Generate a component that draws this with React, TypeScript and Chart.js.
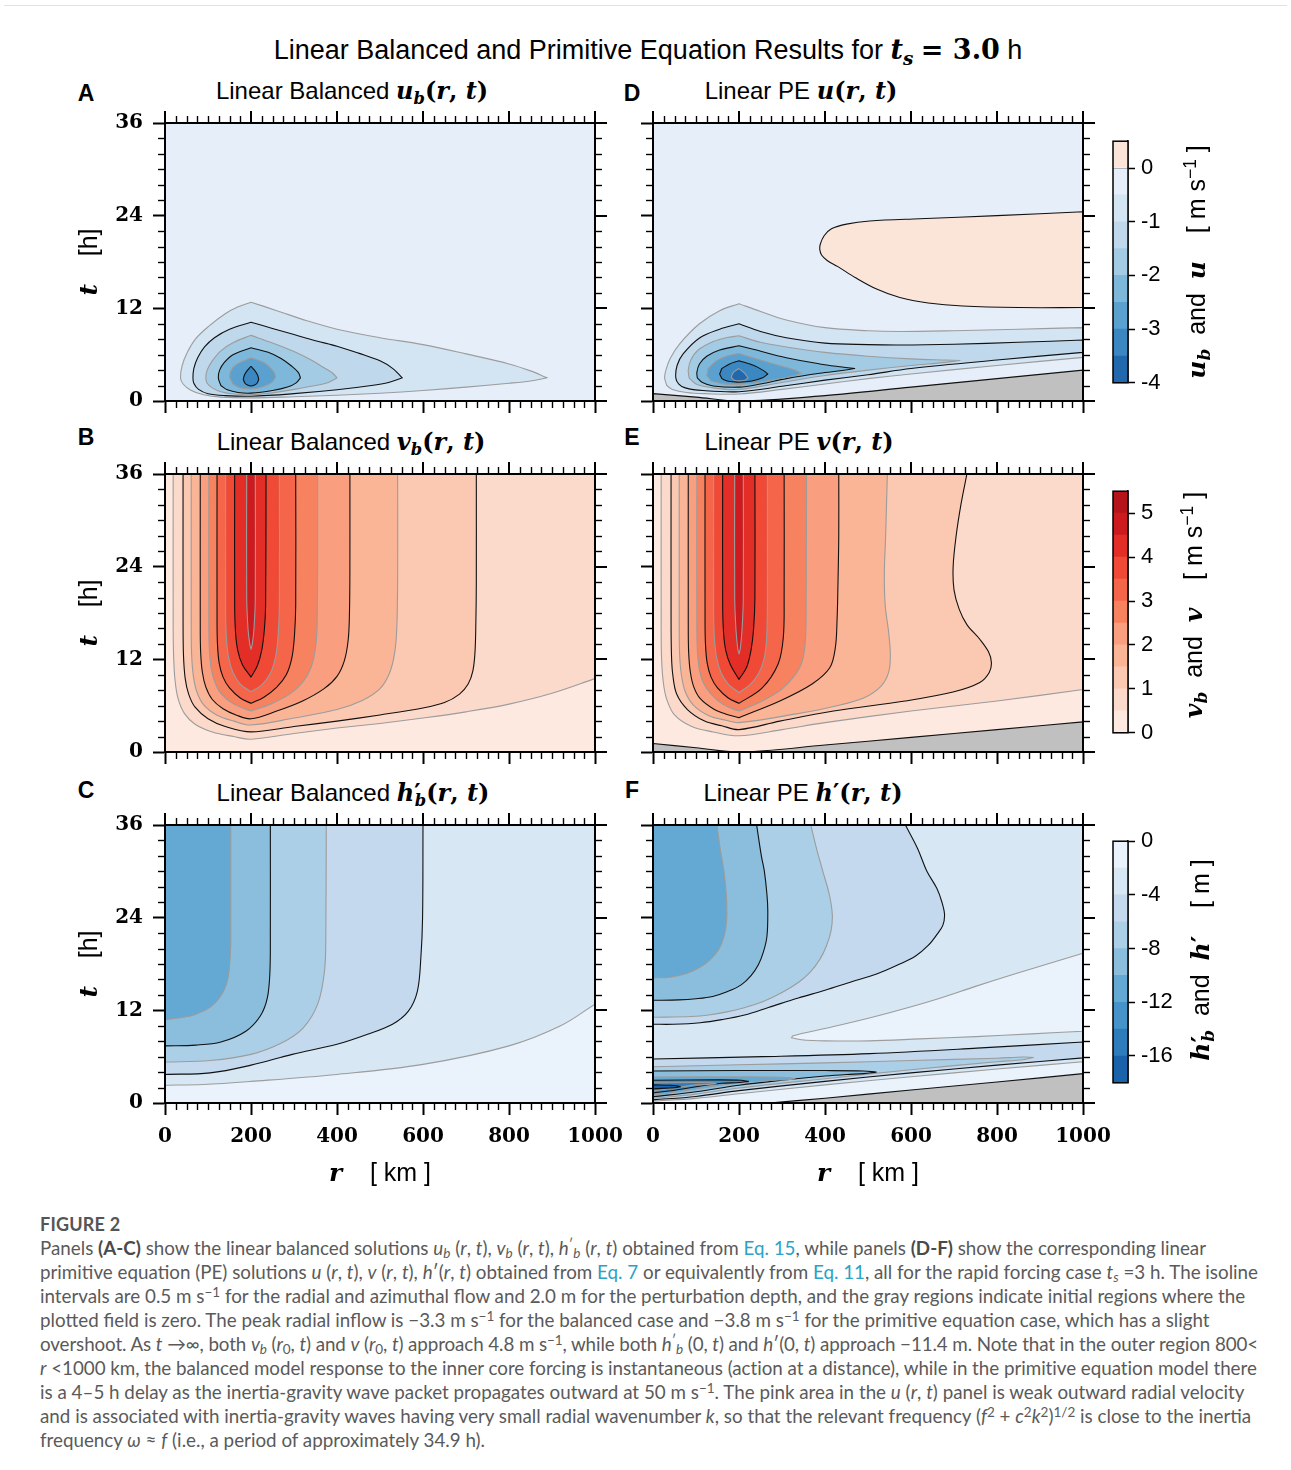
import React, { useEffect, useRef } from "react";
import { Chart, registerables } from "chart.js";

Chart.register(...registerables);

type Pt = [number, number];

/* ---------------- axes ---------------- */
const R_RANGE: Pt = [0, 1000];
const T_RANGE: Pt = [0, 36];
const R_TICKS = [0, 200, 400, 600, 800, 1000];
const T_TICKS = [0, 12, 24, 36];
const R_MINOR = 25;
const T_MINOR = 2;

/* ---------------- colour bars ---------------- */
const U_EDGES = [-4, -3.5, -3, -2.5, -2, -1.5, -1, -0.5, 0, 0.5];
const U_COLORS = ["#2268ad", "#3a87c2", "#5aa1d0", "#7db8da", "#a3cce4", "#bfd8ec", "#d3e4f3", "#e6eff9", "#fbe5d9"];
const U_LABELS = [-4, -3, -2, -1, 0];
const V_EDGES = [0, 0.5, 1, 1.5, 2, 2.5, 3, 3.5, 4, 4.5, 5, 5.5];
const V_COLORS = ["#fde9e0", "#fcdacb", "#fbc8b1", "#fab496", "#f99e7f", "#f7825f", "#f4654a", "#f04a36", "#e22e27", "#cc1a1f", "#b5141b"];
const V_LABELS = [0, 1, 2, 3, 4, 5];
const H_EDGES = [-18, -16, -14, -12, -10, -8, -6, -4, -2, 0];
const H_COLORS = ["#1a63aa", "#2e7cbc", "#4593c8", "#64a8d4", "#8bbedc", "#aacfe6", "#c4d9ee", "#d7e7f4", "#eaf2fb"];
const H_LABELS = [-16, -12, -8, -4, 0];
const ZERO_GRAY = "#c0c0c0";

/* ---------------- full plot rectangle ---------------- */
const FULL: Pt[] = [[0, 0], [0, 36], [1000, 36], [1000, 0]];

/* ---------------- panel A : balanced u_b ---------------- */
const A_M05: Pt[] = [[200, 12.8], [260, 11.7], [330, 10.4], [400, 9.3], [500, 8.2], [600, 7.3], [700, 6.1], [800, 4.8], [850, 3.9], [889, 3.0], [850, 2.6], [800, 2.3], [700, 1.8], [600, 1.35], [500, 1.0], [400, 0.75], [300, 0.55], [200, 0.4], [130, 0.5], [90, 0.8], [60, 1.4], [42, 2.2], [36, 3.0], [40, 4.6], [52, 6.3], [72, 8.1], [100, 9.6], [140, 11.3], [170, 12.2]];
const A_M10: Pt[] = [[200, 10.2], [250, 9.4], [300, 8.6], [350, 7.8], [400, 7.1], [450, 6.2], [500, 5.2], [530, 4.2], [552, 3.0], [520, 2.4], [480, 2.0], [400, 1.45], [300, 0.95], [200, 0.62], [140, 0.7], [100, 0.95], [78, 1.5], [67, 2.3], [65, 3.0], [67, 4.2], [76, 5.6], [92, 7.0], [115, 8.2], [150, 9.3]];
const A_M15: Pt[] = [[200, 8.5], [250, 7.5], [300, 6.4], [340, 5.3], [370, 4.3], [390, 3.6], [400, 3.0], [380, 2.4], [340, 1.9], [300, 1.5], [250, 1.05], [200, 0.82], [160, 0.9], [130, 1.2], [110, 1.7], [98, 2.3], [95, 3.0], [98, 4.0], [110, 5.2], [130, 6.5], [160, 7.6]];
const A_M20: Pt[] = [[200, 6.9], [240, 6.3], [270, 5.5], [295, 4.5], [310, 3.7], [315, 3.0], [305, 2.35], [285, 1.8], [250, 1.35], [200, 1.02], [170, 1.1], [145, 1.45], [130, 2.0], [124, 3.0], [127, 4.0], [138, 5.0], [158, 6.0]];
const A_M25: Pt[] = [[200, 5.6], [230, 5.0], [245, 4.3], [254, 3.7], [257, 3.1], [250, 2.5], [235, 2.0], [215, 1.65], [200, 1.55], [175, 1.7], [158, 2.2], [150, 3.1], [153, 3.9], [165, 4.7]];
const A_M30: Pt[] = [[200, 4.5], [208, 4.0], [215, 3.4], [218, 2.8], [214, 2.3], [207, 2.03], [200, 1.95], [193, 2.03], [186, 2.3], [182, 2.8], [185, 3.4], [192, 4.0]];

/* ---------------- panel D : PE u ---------------- */
const D_POS: Pt[] = [[1000, 24.5], [800, 24.0], [620, 23.6], [504, 23.3], [450, 22.9], [415, 22.3], [398, 21.4], [389, 20.3], [388, 19.6], [392, 18.9], [405, 18.2], [430, 17.4], [470, 16.0], [520, 14.5], [574, 13.4], [640, 12.7], [720, 12.3], [850, 12.1], [1000, 12.1]];
const D_M05: Pt[] = [[1000, 9.5], [850, 9.3], [700, 9.1], [574, 9.0], [500, 9.1], [400, 9.5], [310, 10.5], [250, 11.6], [200, 12.6], [155, 11.7], [108, 10.0], [62, 7.4], [40, 5.5], [30, 4.0], [27, 3.0], [32, 2.0], [45, 1.5], [78, 1.1], [120, 0.95], [200, 0.9], [300, 1.5], [400, 2.2], [500, 2.9], [600, 3.5], [800, 4.6], [1000, 5.65]];
const D_M10: Pt[] = [[1000, 7.9], [850, 7.6], [700, 7.35], [574, 7.25], [500, 7.3], [400, 7.5], [310, 8.2], [250, 9.0], [200, 10.0], [155, 9.3], [109, 8.2], [70, 6.1], [56, 4.6], [53, 3.0], [60, 2.2], [75, 1.7], [116, 1.35], [200, 1.2], [300, 1.9], [400, 2.7], [500, 3.4], [600, 4.2], [800, 5.3], [1000, 6.3]];
const D_M15: Pt[] = [[200, 8.45], [250, 7.6], [310, 7.0], [400, 6.3], [500, 5.8], [600, 5.45], [680, 5.3], [714, 5.25], [680, 5.0], [600, 4.6], [500, 4.0], [400, 3.3], [300, 2.4], [200, 1.5], [140, 1.7], [100, 2.2], [84, 3.0], [82, 4.0], [88, 5.3], [105, 6.6], [140, 7.7], [170, 8.2]];
const D_M20: Pt[] = [[200, 7.15], [233, 6.7], [310, 5.6], [388, 4.8], [440, 4.4], [469, 4.2], [440, 3.95], [388, 3.6], [310, 2.9], [250, 2.2], [200, 1.8], [140, 1.95], [115, 2.4], [103, 3.0], [102, 3.7], [108, 4.8], [125, 5.8], [155, 6.6]];
const D_M25: Pt[] = [[200, 6.15], [250, 5.3], [300, 4.5], [330, 4.0], [345, 3.6], [330, 3.3], [300, 2.95], [250, 2.45], [200, 2.15], [160, 2.25], [135, 2.6], [125, 3.3], [128, 4.2], [145, 5.1], [170, 5.8]];
const D_M30: Pt[] = [[200, 5.2], [235, 4.6], [258, 3.9], [267, 3.5], [255, 3.0], [230, 2.6], [200, 2.45], [175, 2.55], [160, 2.9], [155, 3.5], [160, 4.2], [178, 4.8]];
const D_M35: Pt[] = [[200, 4.2], [213, 3.6], [221, 3.0], [215, 2.7], [200, 2.6], [188, 2.7], [182, 3.1], [187, 3.7]];
const D_ZERO: Pt[] = [[0, 0], [0, 0.95], [100, 0.5], [200, 0], [400, 0.7], [600, 1.8], [800, 2.9], [1000, 4.0], [1000, 0]];

/* ---------------- panel B : balanced v_b ---------------- */
const B_05: Pt[] = [[19, 36], [19, 16], [20, 12.5], [23, 9.5], [30, 7.0], [45, 5.0], [70, 3.6], [110, 2.6], [160, 2.0], [200, 1.65], [300, 2.4], [400, 3.1], [500, 3.7], [600, 4.4], [700, 5.2], [800, 6.2], [900, 7.6], [1000, 9.5], [1000, 36]];
const B_10: Pt[] = [[42, 36], [42, 17], [43, 12.5], [47, 9.5], [55, 7.5], [70, 5.8], [100, 4.3], [140, 3.3], [200, 2.6], [300, 3.3], [400, 4.0], [500, 4.8], [600, 5.7], [650, 6.4], [685, 7.5], [705, 8.8], [716, 10.5], [721, 13], [723, 17], [724, 22], [724, 36]];
const B_15: Pt[] = [[61, 36], [61, 16], [62, 12.5], [66, 9.8], [74, 7.8], [90, 6.1], [120, 4.8], [160, 4.0], [200, 3.5], [300, 4.4], [400, 5.5], [460, 6.7], [500, 8.2], [522, 10.2], [534, 12.8], [539, 16], [541, 22], [541, 36]];
const B_20: Pt[] = [[82, 36], [82, 16], [83, 12.8], [87, 10.3], [95, 8.4], [110, 6.8], [135, 5.6], [165, 4.8], [200, 4.3], [260, 5.3], [320, 6.6], [370, 8.2], [400, 9.8], [417, 11.8], [426, 14.5], [429, 18], [430, 24], [430, 36]];
const B_25: Pt[] = [[102, 36], [102, 17], [103, 13.5], [107, 11], [115, 9.2], [130, 7.6], [160, 6.2], [200, 5.3], [245, 6.2], [290, 7.5], [320, 9.0], [340, 11], [350, 13.5], [354, 17], [355, 36]];
const B_30: Pt[] = [[121, 36], [121, 17], [122, 14], [126, 11.5], [135, 9.7], [150, 8.3], [175, 7.0], [200, 6.3], [230, 7.1], [260, 8.4], [282, 10.0], [295, 12.2], [301, 15], [304, 19], [304, 36]];
const B_35: Pt[] = [[141, 36], [141, 18], [143, 14.5], [148, 12.2], [158, 10.3], [175, 8.8], [200, 7.8], [225, 8.7], [245, 10.2], [257, 12.3], [263, 15], [266, 19], [266, 36]];
const B_40: Pt[] = [[162, 36], [162, 19], [164, 15.5], [169, 13.2], [180, 11.3], [200, 9.7], [215, 11.2], [225, 13.2], [231, 15.8], [234, 19], [235, 36]];
const B_45: Pt[] = [[190, 36], [190, 20], [193, 16], [197, 14], [200, 13.3], [203, 14], [207, 16], [210, 20], [210, 36]];

/* ---------------- panel E : PE v ---------------- */
const E_05: Pt[] = [[19, 36], [19, 16], [20, 12], [24, 9], [32, 6.8], [50, 4.8], [90, 3.3], [140, 2.6], [200, 2.1], [300, 2.9], [400, 3.8], [600, 5.3], [800, 6.6], [1000, 8.1], [1000, 36]];
const E_10: Pt[] = [[42, 36], [42, 17], [43, 12.5], [46, 10], [55, 7.5], [80, 5.5], [120, 4.0], [160, 3.4], [200, 2.9], [295, 4.0], [420, 5.3], [586, 6.6], [700, 7.8], [760, 9.0], [782, 10.3], [787, 11.6], [780, 13.0], [760, 14.6], [730, 16.5], [712, 18.5], [700, 21], [698, 24], [705, 28], [716, 32], [730, 36]];
const E_15: Pt[] = [[61, 36], [61, 16], [62, 12.5], [66, 10], [75, 7.8], [95, 6.0], [130, 4.7], [170, 4.1], [200, 3.8], [330, 4.9], [420, 5.9], [490, 7.0], [530, 8.5], [548, 10.3], [552, 12.5], [548, 15.5], [540, 19], [538, 23], [541, 28], [545, 36]];
const E_20: Pt[] = [[82, 36], [82, 16], [83, 12.8], [87, 10.3], [95, 8.4], [110, 6.9], [140, 5.6], [170, 4.9], [200, 4.45], [295, 6.6], [370, 8.8], [411, 10.9], [424, 13.5], [428, 17], [430, 21.3], [432, 28], [432, 36]];
const E_25: Pt[] = [[102, 36], [102, 17], [103, 13.5], [107, 11], [116, 9.1], [135, 7.5], [165, 6.1], [200, 5.3], [254, 6.6], [303, 8.3], [341, 10.9], [353, 13.5], [356, 18], [357, 36]];
const E_30: Pt[] = [[121, 36], [121, 17], [122, 14], [126, 11.5], [135, 9.7], [150, 8.3], [175, 7.0], [200, 6.3], [254, 8.3], [291, 11.4], [303, 14.8], [305, 20], [305, 36]];
const E_35: Pt[] = [[141, 36], [141, 18], [143, 14.5], [148, 12.2], [158, 10.3], [175, 8.8], [200, 7.7], [225, 8.7], [245, 10.1], [258, 12], [264, 14.5], [266, 19], [266, 36]];
const E_40: Pt[] = [[162, 36], [162, 19], [164, 15.5], [169, 13.2], [180, 11.3], [200, 9.4], [218, 11], [228, 13.2], [234, 16], [237, 20], [237, 36]];
const E_45: Pt[] = [[190, 36], [190, 20], [193, 15.8], [197, 13.4], [200, 12.7], [203, 13.4], [207, 15.8], [210, 20], [210, 36]];
const E_ZERO: Pt[] = [[0, 0], [0, 1.1], [100, 0.55], [200, 0], [400, 0.9], [600, 1.9], [800, 2.9], [1000, 3.9], [1000, 0]];

/* ---------------- panel C : balanced h'_b ---------------- */
const C_M2: Pt[] = [[0, 2.3], [89, 2.4], [200, 2.8], [400, 3.7], [600, 5.0], [800, 7.4], [920, 10.0], [1000, 12.8], [1000, 36], [0, 36]];
const C_M4: Pt[] = [[0, 3.7], [105, 3.9], [200, 4.9], [296, 6.3], [400, 7.6], [471, 8.9], [529, 10.2], [566, 11.9], [587, 14.5], [595, 18.8], [599, 24], [600, 36], [0, 36]];
const C_M6: Pt[] = [[0, 5.3], [105, 5.5], [200, 6.3], [272, 7.8], [321, 9.7], [355, 12.8], [371, 17.1], [374, 22], [375, 36], [0, 36]];
const C_M8: Pt[] = [[0, 7.4], [72, 7.5], [130, 7.9], [188, 9.3], [222, 11.3], [238, 13.6], [244, 17], [245, 22], [245, 36], [0, 36]];
const C_M10: Pt[] = [[0, 10.8], [31, 11.0], [72, 11.5], [114, 12.8], [143, 15.4], [152, 19.3], [153, 24], [153, 36], [0, 36]];

/* ---------------- panel F : PE h' ---------------- */
const F_TONGUE: Pt[] = [[1000, 19.4], [900, 17.7], [835, 16.6], [750, 15.1], [669, 13.6], [590, 12.3], [503, 11.0], [420, 9.9], [354, 9.1], [325, 8.7], [322, 8.45], [345, 8.2], [400, 8.05], [503, 8.05], [620, 8.3], [751, 8.6], [880, 8.95], [1000, 9.3]];
const F_LOWER_M2: Pt[] = [[0, 0], [0, 0.25], [100, 0.6], [200, 1.2], [400, 2.35], [600, 3.4], [800, 4.4], [1000, 5.35], [1000, 0]];
const F_UP_M4: Pt[] = [[0, 36], [587, 36], [615, 33], [637, 30], [660, 27.8], [672, 26], [678, 24.4], [674, 23.0], [660, 21.8], [640, 20.4], [610, 19.0], [570, 17.9], [520, 16.7], [462, 15.7], [400, 14.6], [338, 13.6], [270, 12.4], [213, 11.4], [160, 10.8], [110, 10.4], [47, 10.2], [0, 10.2]];
const F_UP_M6: Pt[] = [[0, 36], [367, 36], [380, 33], [395, 30], [410, 27], [417, 24.4], [414, 22.3], [403, 20.3], [388, 18.6], [365, 16.9], [338, 15.6], [300, 14.3], [255, 13.1], [210, 12.3], [172, 11.8], [130, 11.4], [89, 11.2], [0, 11.1]];
const F_UP_M8: Pt[] = [[0, 36], [241, 36], [252, 32], [259, 30], [265, 27], [267, 24.8], [265, 21.6], [257, 19.6], [245, 17.9], [228, 16.5], [205, 15.3], [172, 14.4], [139, 13.8], [100, 13.5], [60, 13.35], [0, 13.3]];
const F_UP_M10: Pt[] = [[0, 36], [149, 36], [156, 33], [165, 30], [171, 26.5], [171, 23.5], [165, 21.5], [152, 19.8], [132, 18.5], [110, 17.6], [80, 16.8], [40, 16.3], [0, 16.2]];
const F_LOW_M4: Pt[] = [[0, 5.7], [255, 6.0], [504, 6.4], [753, 7.1], [1000, 7.9], [1000, 5.85], [800, 4.9], [600, 3.9], [400, 2.8], [200, 1.6], [100, 0.85], [0, 0.4]];
const F_LOW_M6: Pt[] = [[0, 4.7], [200, 4.95], [400, 5.2], [600, 5.5], [800, 5.8], [860, 5.95], [885, 5.9], [860, 5.6], [800, 5.35], [600, 4.3], [400, 3.15], [200, 1.95], [100, 1.15], [0, 0.6]];
const F_LOW_M8: Pt[] = [[0, 4.15], [200, 4.2], [400, 4.2], [490, 4.15], [519, 4.0], [490, 3.8], [450, 3.7], [400, 3.5], [300, 2.95], [200, 2.3], [100, 1.45], [0, 0.8]];
const F_LOW_M10: Pt[] = [[0, 3.35], [150, 3.4], [280, 3.35], [320, 3.25], [330, 3.15], [310, 3.0], [280, 2.95], [200, 2.6], [150, 2.25], [70, 1.55], [0, 1.0]];
const F_LOW_M12: Pt[] = [[0, 2.95], [150, 3.0], [205, 2.95], [222, 2.8], [200, 2.65], [160, 2.55], [100, 2.1], [50, 1.65], [0, 1.3]];
const F_LOW_M14: Pt[] = [[0, 2.6], [100, 2.65], [135, 2.6], [147, 2.5], [130, 2.4], [100, 2.35], [50, 1.95], [0, 1.55]];
const F_LOW_M16: Pt[] = [[0, 2.35], [40, 2.3], [58, 2.2], [64, 2.1], [55, 2.0], [40, 1.95], [0, 1.85]];
const F_ZERO: Pt[] = [[270, 0], [400, 0.62], [600, 1.68], [800, 2.72], [1000, 3.8], [1000, 0]];

/* ---------------- layer tables ---------------- */
type Layer = { pts: Pt[]; color: string; line: "k" | "g" | "n" };

const PANEL_A: Layer[] = [
  { pts: FULL, color: U_COLORS[7], line: "n" },
  { pts: A_M05, color: U_COLORS[6], line: "g" },
  { pts: A_M10, color: U_COLORS[5], line: "k" },
  { pts: A_M15, color: U_COLORS[4], line: "g" },
  { pts: A_M20, color: U_COLORS[3], line: "k" },
  { pts: A_M25, color: U_COLORS[2], line: "g" },
  { pts: A_M30, color: U_COLORS[1], line: "k" },
];
const PANEL_D: Layer[] = [
  { pts: FULL, color: U_COLORS[7], line: "n" },
  { pts: D_POS, color: U_COLORS[8], line: "k" },
  { pts: D_M05, color: U_COLORS[6], line: "g" },
  { pts: D_M10, color: U_COLORS[5], line: "k" },
  { pts: D_M15, color: U_COLORS[4], line: "g" },
  { pts: D_M20, color: U_COLORS[3], line: "k" },
  { pts: D_M25, color: U_COLORS[2], line: "g" },
  { pts: D_M30, color: U_COLORS[1], line: "k" },
  { pts: D_M35, color: U_COLORS[0], line: "g" },
  { pts: D_ZERO, color: ZERO_GRAY, line: "k" },
];
const PANEL_B: Layer[] = [
  { pts: FULL, color: V_COLORS[0], line: "n" },
  { pts: B_05, color: V_COLORS[1], line: "g" },
  { pts: B_10, color: V_COLORS[2], line: "k" },
  { pts: B_15, color: V_COLORS[3], line: "g" },
  { pts: B_20, color: V_COLORS[4], line: "k" },
  { pts: B_25, color: V_COLORS[5], line: "g" },
  { pts: B_30, color: V_COLORS[6], line: "k" },
  { pts: B_35, color: V_COLORS[7], line: "g" },
  { pts: B_40, color: V_COLORS[8], line: "k" },
  { pts: B_45, color: V_COLORS[9], line: "g" },
];
const PANEL_E: Layer[] = [
  { pts: FULL, color: V_COLORS[0], line: "n" },
  { pts: E_05, color: V_COLORS[1], line: "g" },
  { pts: E_10, color: V_COLORS[2], line: "k" },
  { pts: E_15, color: V_COLORS[3], line: "g" },
  { pts: E_20, color: V_COLORS[4], line: "k" },
  { pts: E_25, color: V_COLORS[5], line: "g" },
  { pts: E_30, color: V_COLORS[6], line: "k" },
  { pts: E_35, color: V_COLORS[7], line: "g" },
  { pts: E_40, color: V_COLORS[8], line: "k" },
  { pts: E_45, color: V_COLORS[9], line: "g" },
  { pts: E_ZERO, color: ZERO_GRAY, line: "k" },
];
const PANEL_C: Layer[] = [
  { pts: FULL, color: H_COLORS[8], line: "n" },
  { pts: C_M2, color: H_COLORS[7], line: "g" },
  { pts: C_M4, color: H_COLORS[6], line: "k" },
  { pts: C_M6, color: H_COLORS[5], line: "g" },
  { pts: C_M8, color: H_COLORS[4], line: "k" },
  { pts: C_M10, color: H_COLORS[3], line: "g" },
];
const PANEL_F: Layer[] = [
  { pts: FULL, color: H_COLORS[7], line: "n" },
  { pts: F_TONGUE, color: H_COLORS[8], line: "g" },
  { pts: F_LOWER_M2, color: H_COLORS[8], line: "g" },
  { pts: F_UP_M4, color: H_COLORS[6], line: "k" },
  { pts: F_UP_M6, color: H_COLORS[5], line: "g" },
  { pts: F_UP_M8, color: H_COLORS[4], line: "k" },
  { pts: F_UP_M10, color: H_COLORS[3], line: "g" },
  { pts: F_LOW_M4, color: H_COLORS[6], line: "k" },
  { pts: F_LOW_M6, color: H_COLORS[5], line: "g" },
  { pts: F_LOW_M8, color: H_COLORS[4], line: "k" },
  { pts: F_LOW_M10, color: H_COLORS[3], line: "g" },
  { pts: F_LOW_M12, color: H_COLORS[2], line: "k" },
  { pts: F_LOW_M14, color: H_COLORS[1], line: "g" },
  { pts: F_LOW_M16, color: H_COLORS[0], line: "k" },
  { pts: F_ZERO, color: ZERO_GRAY, line: "k" },
];

/* ---------------- drawing helpers ---------------- */
const PLOT_W = 430;
const PLOT_H = 278;
const M_L = 70, M_T = 30, M_R = 45, M_B = 60;
const SERIF = '"DejaVu Serif", serif';
const SANS = '"Liberation Sans", Arial, Helvetica, sans-serif';
const LINE_K = "#111111";
const LINE_G = "#9c9c9c";

// duplicate sharp corners so the spline keeps them pointed
function toPoints(pts: Pt[]) {
  const p = [...pts, pts[0]];
  const sx = PLOT_W / (R_RANGE[1] - R_RANGE[0]);
  const sy = PLOT_H / (T_RANGE[1] - T_RANGE[0]);
  const out: { x: number; y: number }[] = [];
  const lim = Math.cos((35 * Math.PI) / 180);
  for (let i = 0; i < p.length; i++) {
    const [r, t] = p[i];
    out.push({ x: r, y: t });
    if (i > 0 && i < p.length - 1) {
      const ax = (r - p[i - 1][0]) * sx, ay = (t - p[i - 1][1]) * sy;
      const bx = (p[i + 1][0] - r) * sx, by = (p[i + 1][1] - t) * sy;
      const la = Math.hypot(ax, ay), lb = Math.hypot(bx, by);
      if (la > 0 && lb > 0 && (ax * bx + ay * by) / (la * lb) < lim) out.push({ x: r, y: t });
    }
  }
  return out;
}

const framePlugin = {
  id: "panelFrame",
  afterDraw(chart: any) {
    const { ctx, chartArea: a, scales } = chart;
    const xs = scales.x, ys = scales.y;
    const seg = (x1: number, y1: number, x2: number, y2: number, w: number) => {
      ctx.lineWidth = w;
      ctx.beginPath();
      ctx.moveTo(x1, y1);
      ctx.lineTo(x2, y2);
      ctx.stroke();
    };
    ctx.save();
    ctx.strokeStyle = "#000";
    ctx.lineCap = "butt";
    seg(a.left - 1, a.top, a.right + 1, a.top, 2);
    seg(a.right, a.top - 1, a.right, a.bottom + 1, 2);
    seg(a.left - 1, a.bottom, a.right + 1, a.bottom, 2);
    seg(a.left, a.top - 1, a.left, a.bottom + 1, 2);
    for (let r = R_RANGE[0]; r <= R_RANGE[1]; r += R_MINOR) {
      const major = R_TICKS.includes(r);
      const x = Math.round(xs.getPixelForValue(r)) + (major ? 0 : 0.5);
      seg(x, a.top, x, a.top - (major ? 12 : 7), major ? 2 : 1.4);
      if (!major) seg(x, a.bottom, x, a.bottom + 7, 1.4);
    }
    for (let t = T_RANGE[0]; t <= T_RANGE[1]; t += T_MINOR) {
      const major = T_TICKS.includes(t);
      const y = Math.round(ys.getPixelForValue(t)) + (major ? 0 : 0.5);
      seg(a.right, y, a.right + (major ? 12 : 7), y, major ? 2 : 1.4);
      if (!major) seg(a.left, y, a.left - 7, y, 1.4);
    }
    ctx.restore();
  },
};

function ContourPanel({ layers, left, top, showX, showY }: any) {
  const ref = useRef<HTMLCanvasElement | null>(null);
  useEffect(() => {
    const n = layers.length;
    const chart = new Chart(ref.current as HTMLCanvasElement, {
      type: "scatter",
      data: {
        datasets: layers.map((L: Layer, i: number) => ({
          data: toPoints(L.pts),
          showLine: true,
          fill: "shape",
          backgroundColor: L.color,
          borderColor: L.line === "k" ? LINE_K : L.line === "g" ? LINE_G : "rgba(0,0,0,0)",
          borderWidth: L.line === "n" ? 0 : 1.1,
          borderJoinStyle: "round",
          pointRadius: 0,
          pointHoverRadius: 0,
          tension: 0.35,
          clip: 0,
          order: n - i,
        })),
      },
      options: {
        responsive: false,
        maintainAspectRatio: false,
        animation: false,
        events: [],
        layout: { padding: { left: 0, top: M_T, right: M_R, bottom: 0 } },
        plugins: { legend: { display: false }, tooltip: { enabled: false } },
        scales: {
          x: {
            type: "linear",
            min: R_RANGE[0],
            max: R_RANGE[1],
            z: 1,
            afterBuildTicks: (s: any) => { s.ticks = R_TICKS.map((v) => ({ value: v })); },
            afterFit: (s: any) => { s.height = M_B; },
            ticks: { display: showX, color: "#000", font: { family: SERIF, weight: "bold", size: 20 }, padding: 10, maxRotation: 0, autoSkip: false, callback: (v: number) => String(v) },
            grid: { display: true, drawOnChartArea: false, drawTicks: true, tickLength: 12, tickWidth: 2, tickColor: "#000" },
            border: { display: true, color: "#000", width: 2 },
          },
          y: {
            type: "linear",
            min: T_RANGE[0],
            max: T_RANGE[1],
            z: 1,
            afterBuildTicks: (s: any) => { s.ticks = T_TICKS.map((v) => ({ value: v })); },
            afterFit: (s: any) => { s.width = M_L; },
            ticks: { display: showY, color: "#000", font: { family: SERIF, weight: "bold", size: 20 }, padding: 10, autoSkip: false, callback: (v: number) => String(v) },
            grid: { display: true, drawOnChartArea: false, drawTicks: true, tickLength: 12, tickWidth: 2, tickColor: "#000" },
            border: { display: true, color: "#000", width: 2 },
          },
        },
      } as any,
      plugins: [framePlugin],
    } as any);
    return () => chart.destroy();
  }, []);
  const w = PLOT_W + M_L + M_R, h = PLOT_H + M_T + M_B;
  return <canvas ref={ref} width={w} height={h} style={{ position: "absolute", left: left - M_L, top: top - M_T, width: w, height: h }} />;
}

const boxPlugin = {
  id: "cbBox",
  afterDraw(chart: any) {
    const { ctx, chartArea: a } = chart;
    ctx.save();
    ctx.strokeStyle = "#000";
    ctx.lineWidth = 1.5;
    ctx.strokeRect(a.left, a.top, a.right - a.left, a.bottom - a.top);
    ctx.restore();
  },
};

function ColorBar({ edges, colors, labels, top }: any) {
  const ref = useRef<HTMLCanvasElement | null>(null);
  useEffect(() => {
    const chart = new Chart(ref.current as HTMLCanvasElement, {
      type: "bar",
      data: {
        labels: [""],
        datasets: colors.map((c: string, i: number) => ({
          data: [[edges[i], edges[i + 1]]],
          backgroundColor: c,
          borderWidth: 0,
          barPercentage: 1,
          categoryPercentage: 1,
          grouped: false,
        })),
      },
      options: {
        responsive: false,
        maintainAspectRatio: false,
        animation: false,
        events: [],
        layout: { padding: { left: 13, top: 15, right: 0, bottom: 15 } },
        plugins: { legend: { display: false }, tooltip: { enabled: false } },
        scales: {
          x: { display: false },
          y: {
            type: "linear",
            position: "right",
            min: edges[0],
            max: edges[edges.length - 1],
            z: 1,
            afterBuildTicks: (s: any) => { s.ticks = edges.map((v: number) => ({ value: v })); },
            afterFit: (s: any) => { s.width = 62; },
            ticks: {
              autoSkip: false,
              color: "#000",
              padding: 6,
              font: { family: SANS, size: 22 },
              callback: (v: number) => (labels.includes(v) ? String(v) : ""),
            },
            grid: {
              drawOnChartArea: true,
              drawTicks: true,
              tickLength: 7,
              lineWidth: 1,
              color: (c: any) => (labels.includes(c.tick.value) ? "#000" : "#999"),
              tickColor: (c: any) => (labels.includes(c.tick.value) ? "#000" : "rgba(0,0,0,0)"),
              tickWidth: 1.5,
            },
            border: { display: true, color: "#000", width: 1.5 },
          },
        },
      } as any,
      plugins: [boxPlugin],
    } as any);
    return () => chart.destroy();
  }, []);
  return <canvas ref={ref} width={90} height={280} style={{ position: "absolute", left: 1100, top: top - 15, width: 90, height: 280 }} />;
}

/* ---------------- text helpers ---------------- */
const Abs = ({ x, y, rot = 0, style, children }: any) => (
  <div style={{ position: "absolute", left: x, top: y, transform: `translate(-50%, -50%) rotate(${rot}deg)`, whiteSpace: "pre", lineHeight: 1, ...style }}>{children}</div>
);
const Mi = ({ children }: any) => <span style={{ fontFamily: SERIF, fontStyle: "italic", fontWeight: 700 }}>{children}</span>;
const Mu = ({ children }: any) => <span style={{ fontFamily: SERIF, fontWeight: 700 }}>{children}</span>;
const Ms = ({ children, ml }: any) => (
  <span style={{ fontFamily: SERIF, fontStyle: "italic", fontWeight: 700, fontSize: "0.68em", position: "relative", top: "0.32em", marginLeft: ml || 0 }}>{children}</span>
);
const Prime = () => <span style={{ fontFamily: SERIF, fontWeight: 700 }}>′</span>;

const LINK = "#2aa2c4";
const CAP_COLOR = "#5a5a5a";
const ci = (s: string) => <i>{s}</i>;
const Sb = ({ children }: any) => <sub style={{ fontSize: "0.72em", lineHeight: 0, verticalAlign: "-0.22em" }}>{children}</sub>;
const Sp = ({ children }: any) => <sup style={{ fontSize: "0.72em", lineHeight: 0, verticalAlign: "0.45em" }}>{children}</sup>;
const Lk = ({ children }: any) => <span style={{ color: LINK }}>{children}</span>;
const Bd = ({ children }: any) => <b style={{ fontWeight: 700, color: "#4a4a4a" }}>{children}</b>;

function Caption() {
  const rt = <>({ci("r")}, {ci("t")})</>;
  const lines = [
    <>Panels <Bd>(A-C)</Bd> show the linear balanced solutions {ci("u")}<Sb>{ci("b")}</Sb> {rt}, {ci("v")}<Sb>{ci("b")}</Sb> {rt}, {ci("h")}<Sp>′</Sp><Sb>{ci("b")}</Sb> {rt} obtained from <Lk>Eq. 15</Lk>, while panels <Bd>(D-F)</Bd> show the corresponding linear</>,
    <>primitive equation (PE) solutions {ci("u")} {rt}, {ci("v")} {rt}, {ci("h")}′{rt} obtained from <Lk>Eq. 7</Lk> or equivalently from <Lk>Eq. 11</Lk>, all for the rapid forcing case {ci("t")}<Sb>{ci("s")}</Sb> =3 h. The isoline</>,
    <>intervals are 0.5 m s<Sp>−1</Sp> for the radial and azimuthal flow and 2.0 m for the perturbation depth, and the gray regions indicate initial regions where the</>,
    <>plotted field is zero. The peak radial inflow is −3.3 m s<Sp>−1</Sp> for the balanced case and −3.8 m s<Sp>−1</Sp> for the primitive equation case, which has a slight</>,
    <>overshoot. As {ci("t")} →∞, both {ci("v")}<Sb>{ci("b")}</Sb> ({ci("r")}<Sb>0</Sb>, {ci("t")}) and {ci("v")} ({ci("r")}<Sb>0</Sb>, {ci("t")}) approach 4.8 m s<Sp>−1</Sp>, while both {ci("h")}<Sp>′</Sp><Sb>{ci("b")}</Sb> (0, {ci("t")}) and {ci("h")}′(0, {ci("t")}) approach −11.4 m. Note that in the outer region 800&lt;</>,
    <>{ci("r")} &lt;1000 km, the balanced model response to the inner core forcing is instantaneous (action at a distance), while in the primitive equation model there</>,
    <>is a 4–5 h delay as the inertia-gravity wave packet propagates outward at 50 m s<Sp>−1</Sp>. The pink area in the {ci("u")} {rt} panel is weak outward radial velocity</>,
    <>and is associated with inertia-gravity waves having very small radial wavenumber {ci("k")}, so that the relevant frequency ({ci("f")}<Sp>2</Sp> + {ci("c")}<Sp>2</Sp>{ci("k")}<Sp>2</Sp>)<Sp>1/2</Sp> is close to the inertia</>,
    <>frequency {ci("ω")} ≈ {ci("f")} (i.e., a period of approximately 34.9 h).</>,
  ];
  const spacing = [0, 0, 0, 0, -0.1, -0.03, 0, 0, 0];
  return (
    <div style={{ position: "absolute", left: 40, top: 1212, fontFamily: '"Lato", "Open Sans", sans-serif', fontSize: 18.8, lineHeight: "24px", color: CAP_COLOR }}>
      <div style={{ fontWeight: 700, color: "#555", fontSize: 18, letterSpacing: "0.2px" }}>FIGURE 2</div>
      {lines.map((l, i) => (
        <div key={i} style={{ whiteSpace: "nowrap", letterSpacing: `${spacing[i]}px` }}>{l}</div>
      ))}
    </div>
  );
}

export default function App() {
  const title = { fontFamily: SANS, fontSize: 24, color: "#000" };
  const letter = { fontFamily: SANS, fontSize: 23, fontWeight: 700, color: "#000" };
  const axisT = { fontFamily: SANS, fontSize: 25, color: "#000" };
  const cbT = { fontFamily: SANS, fontSize: 25, color: "#000" };
  const supS = { fontSize: "0.7em", lineHeight: 0, verticalAlign: "0.5em" };
  return (
    <div style={{ position: "absolute", left: 0, top: 0, width: 1291, height: 1470, background: "#fff", overflow: "hidden" }}>
      <div style={{ position: "absolute", left: 4, top: 5, width: 1283, height: 0, borderTop: "1px solid #e2e2e2" }} />

      <Abs x={648} y={50} style={{ fontFamily: SANS, fontSize: 27 }}>
        Linear Balanced and Primitive Equation Results for <Mi>t</Mi><Ms>s</Ms> <Mu>= 3.0</Mu> h
      </Abs>

      <Abs x={86} y={93} style={letter}>A</Abs>
      <Abs x={86} y={437} style={letter}>B</Abs>
      <Abs x={86} y={790} style={letter}>C</Abs>
      <Abs x={632} y={93} style={letter}>D</Abs>
      <Abs x={632} y={437} style={letter}>E</Abs>
      <Abs x={632} y={790} style={letter}>F</Abs>

      <Abs x={352} y={91} style={title}>Linear Balanced <Mi>u</Mi><Ms>b</Ms><Mu>(</Mu><Mi>r</Mi><Mu>, </Mu><Mi>t</Mi><Mu>)</Mu></Abs>
      <Abs x={351} y={442} style={title}>Linear Balanced <Mi>v</Mi><Ms>b</Ms><Mu>(</Mu><Mi>r</Mi><Mu>, </Mu><Mi>t</Mi><Mu>)</Mu></Abs>
      <Abs x={353} y={793} style={title}>Linear Balanced <Mi>h</Mi><Prime /><Ms ml="-0.35em">b</Ms><Mu>(</Mu><Mi>r</Mi><Mu>, </Mu><Mi>t</Mi><Mu>)</Mu></Abs>
      <Abs x={801} y={91} style={title}>Linear PE <Mi>u</Mi><Mu>(</Mu><Mi>r</Mi><Mu>, </Mu><Mi>t</Mi><Mu>)</Mu></Abs>
      <Abs x={799} y={442} style={title}>Linear PE <Mi>v</Mi><Mu>(</Mu><Mi>r</Mi><Mu>, </Mu><Mi>t</Mi><Mu>)</Mu></Abs>
      <Abs x={803} y={793} style={title}>Linear PE <Mi>h</Mi><Prime /><Mu>(</Mu><Mi>r</Mi><Mu>, </Mu><Mi>t</Mi><Mu>)</Mu></Abs>

      <ContourPanel layers={PANEL_A} left={165} top={123} showX={false} showY={true} />
      <ContourPanel layers={PANEL_D} left={653} top={123} showX={false} showY={false} />
      <ContourPanel layers={PANEL_B} left={165} top={474} showX={false} showY={true} />
      <ContourPanel layers={PANEL_E} left={653} top={474} showX={false} showY={false} />
      <ContourPanel layers={PANEL_C} left={165} top={825} showX={true} showY={true} />
      <ContourPanel layers={PANEL_F} left={653} top={825} showX={true} showY={false} />

      <ColorBar edges={U_EDGES} colors={U_COLORS} labels={U_LABELS} top={137} />
      <ColorBar edges={V_EDGES} colors={V_COLORS} labels={V_LABELS} top={487} />
      <ColorBar edges={H_EDGES} colors={H_COLORS} labels={H_LABELS} top={837} />

      <Abs x={88} y={262} rot={-90} style={axisT}><Mi>t</Mi>{"    [h]"}</Abs>
      <Abs x={88} y={613} rot={-90} style={axisT}><Mi>t</Mi>{"    [h]"}</Abs>
      <Abs x={88} y={964} rot={-90} style={axisT}><Mi>t</Mi>{"    [h]"}</Abs>
      <Abs x={380} y={1172} style={axisT}><Mi>r</Mi>{"    [ km ]"}</Abs>
      <Abs x={868} y={1172} style={axisT}><Mi>r</Mi>{"    [ km ]"}</Abs>

      <Abs x={1196} y={262} rot={-90} style={cbT}><Mi>u</Mi><Ms>b</Ms>{"  and  "}<Mi>u</Mi>{"    [ m s"}<sup style={supS}>−1</sup>{" ]"}</Abs>
      <Abs x={1193} y={605} rot={-90} style={cbT}><Mi>v</Mi><Ms>b</Ms>{"  and  "}<Mi>v</Mi>{"    [ m s"}<sup style={supS}>−1</sup>{" ]"}</Abs>
      <Abs x={1200} y={960} rot={-90} style={cbT}><Mi>h</Mi><Prime /><Ms ml="-0.35em">b</Ms>{"  and  "}<Mi>h</Mi><Prime />{"    [ m ]"}</Abs>

      <Caption />
    </div>
  );
}
